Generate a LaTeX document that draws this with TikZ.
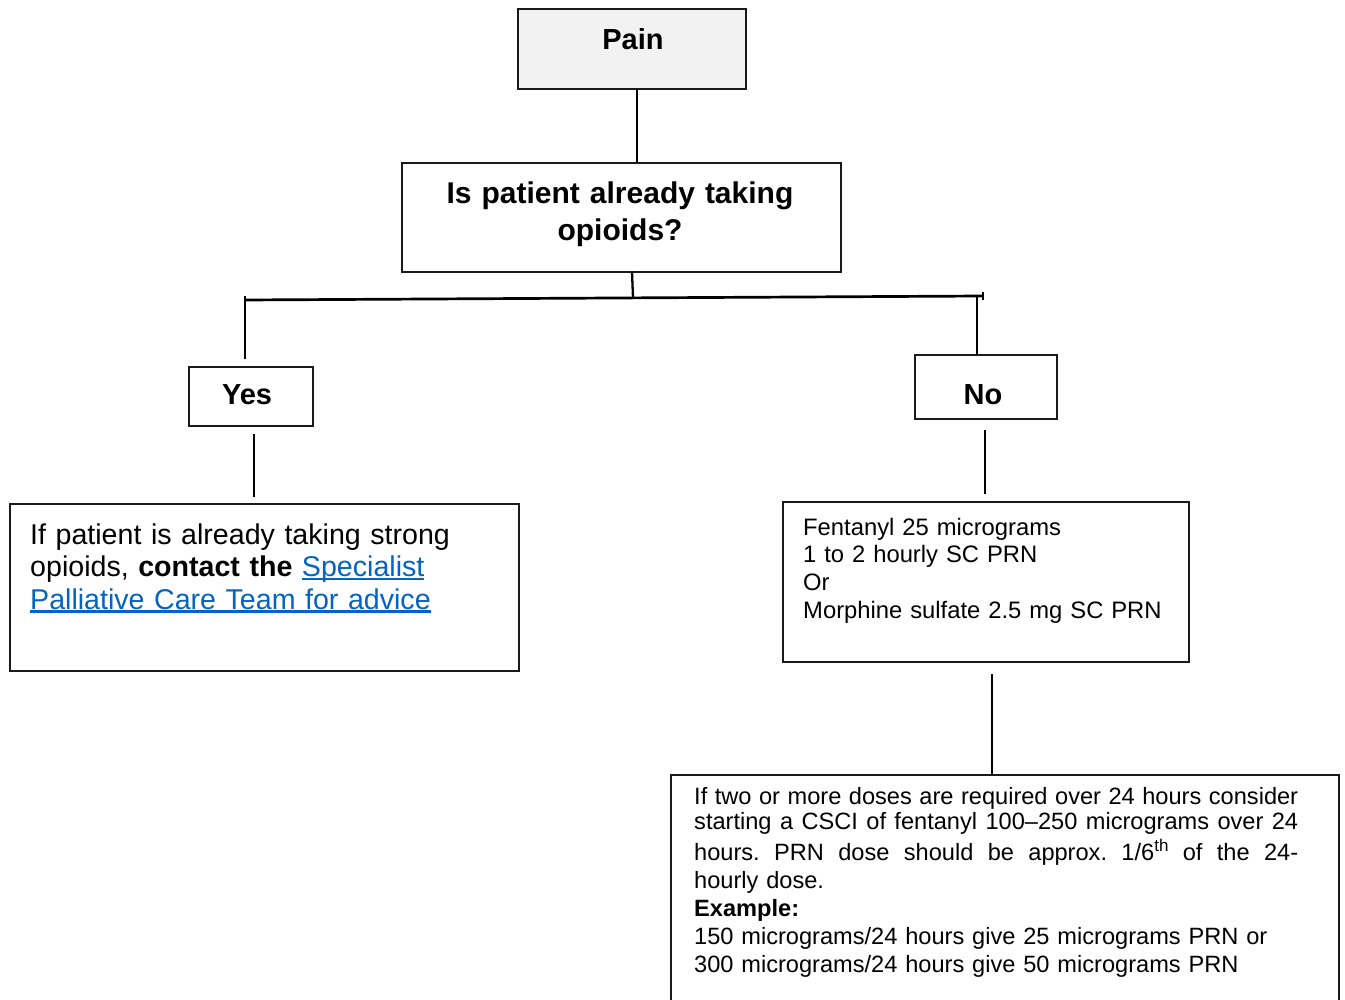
\documentclass[tikz,border=0pt]{standalone}
\usepackage{fontspec}
\setmainfont{Liberation Sans}
\usepackage{xcolor}
\definecolor{linkblue}{HTML}{0563C1}
\definecolor{paingray}{HTML}{F2F2F2}
\definecolor{edge}{HTML}{1A1A1A}
\newlength\ulw
\newcommand\myul[1]{\leavevmode\settowidth\ulw{#1}\rlap{\rule[-3.6pt]{\ulw}{2.2pt}}#1}
\newcommand\jline[1]{\leavevmode\hbox to 604pt{#1}}
\newcommand\mysup[1]{\raisebox{9.5pt}{\fontsize{17}{17}\selectfont #1}}
\tikzset{
  box/.style={draw=edge, line width=1.7pt, inner sep=0pt, outer sep=0pt},
  conn/.style={draw=black, line width=2.3pt},
  head/.style={font=\bfseries\fontsize{29}{33}\selectfont, inner sep=0pt},
  txt/.style={inner sep=0pt, align=left}
}
\begin{document}
\begin{tikzpicture}[x=1pt,y=-1pt]
\useasboundingbox (0,0) rectangle (1345,1000);
\clip (0,0) rectangle (1345,1000);
\fill[white] (0,0) rectangle (1345,1000);

% boxes
\node[box, fill=paingray, minimum width=228pt, minimum height=80pt] (pain) at (632,49) {};
\node[box, minimum width=439pt, minimum height=109pt] (q) at (621.5,217.5) {};
\node[box, minimum width=124pt, minimum height=59pt] (yes) at (251,396.5) {};
\node[box, minimum width=142pt, minimum height=64pt] (no) at (986,387) {};
\node[box, minimum width=509pt, minimum height=167pt] (lbox) at (264.5,587.5) {};
\node[box, minimum width=406pt, minimum height=160pt] (mbox) at (986,582) {};
\node[box, minimum width=668pt, minimum height=250pt] (bbox) at (1005,900) {};

% texts
\node[head, anchor=base] (paint) at (633,50) {Pain};
\node[head, font=\bfseries\fontsize{30}{37}\selectfont, text width=440pt, align=center, anchor=base] (qt) at (620,204) {Is patient already taking\\opioids?};
\node[head, anchor=base] (yest) at (247,405) {Yes};
\node[head, anchor=base] (not) at (983,405) {No};
\node[txt, font=\fontsize{28.6}{32.5}\selectfont, text width=480pt, anchor=base west] (lt) at (30,544)
  {If patient is already taking strong\\
   opioids, \textbf{contact the} {\color{linkblue}\myul{Specialist}}\\
   {\color{linkblue}\myul{Palliative Care Team for advice}}};
\node[txt, font=\fontsize{23.8}{27.7}\selectfont, text width=380pt, anchor=base west] (mt) at (803,535)
  {Fentanyl 25 micrograms\\
   1 to 2 hourly SC PRN\\
   Or\\
   Morphine sulfate 2.5 mg SC PRN};
\node[txt, font=\fontsize{23.6}{27.9}\selectfont, text width=620pt, anchor=base west] (bt) at (694,804)
  {\jline{If\hfill two\hfill or\hfill more\hfill doses\hfill are\hfill required\hfill over\hfill 24\hfill hours\hfill consider}\\[-2.2pt]
   \jline{starting\hfill a\hfill CSCI\hfill of\hfill fentanyl\hfill 100--250\hfill micrograms\hfill over\hfill 24}\\[3pt]
   \jline{hours.\hfill PRN\hfill dose\hfill should\hfill be\hfill approx.\hfill 1/6\mysup{th}\hfill of\hfill the\hfill 24-}\\
   hourly dose.\\
   \textbf{Example:}\\
   150 micrograms/24 hours give 25 micrograms PRN or\\
   300 micrograms/24 hours give 50 micrograms PRN};

% connectors
\coordinate (barL) at (245,300);
\coordinate (barR) at (983,296);
\coordinate (barNo) at (977,296.3);
\draw[conn] ([xshift=5pt]pain.south) -- ([xshift=5pt]pain.south |- q.north);
\draw[conn] ([xshift=10.5pt]q.south) -- ++(1,25.5);
\draw[conn, line width=2.7pt] (barL) -- (barR);
\draw[conn, line width=1.4pt] ([yshift=4pt]barR) -- ([yshift=-4pt]barR);
\draw[conn] ([yshift=4pt]barL) -- ([yshift=8pt]yes.north -| barL);
\draw[conn] (barNo) -- (barNo |- no.north);
\draw[conn, shorten <=8pt, shorten >=7pt] ([xshift=3pt]yes.south) -- ([xshift=3pt]yes.south |- lbox.north);
\draw[conn, shorten <=11pt, shorten >=8pt] ([xshift=-1pt]no.south) -- ([xshift=-1pt]no.south |- mbox.north);
\draw[conn, shorten <=12pt] ([xshift=6pt]mbox.south) -- ([xshift=6pt]mbox.south |- bbox.north);
\end{tikzpicture}
\end{document}
